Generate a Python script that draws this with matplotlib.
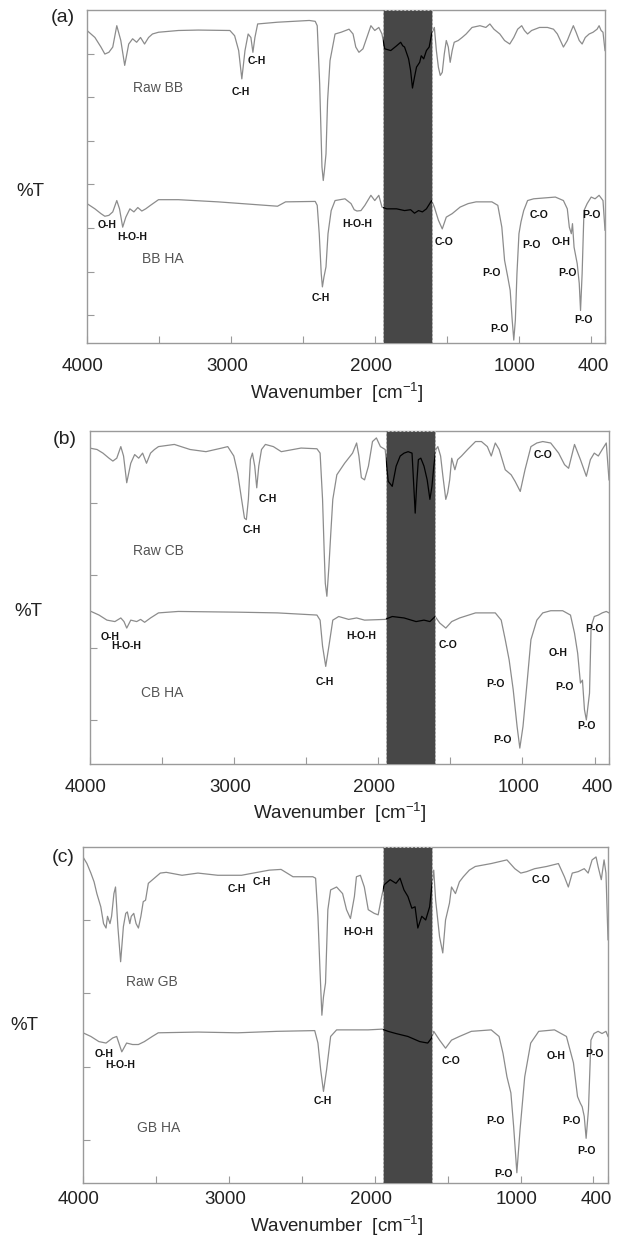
import matplotlib
matplotlib.use("Agg")
import matplotlib.pyplot as plt
from matplotlib.patches import Rectangle
from matplotlib.transforms import ScaledTranslation

plt.rcParams['font.family'] = ['Liberation Sans', 'DejaVu Sans']

# ---------------- data (wavenumber cm-1, offset %T units) ----------------
rawBB_wn = [4000, 3945, 3903, 3876, 3848, 3821, 3793, 3765, 3738, 3710, 3683, 3655, 3628, 3600, 3572, 3545,
            3503, 3365, 3227, 3007, 2974, 2946, 2924, 2902, 2880, 2861, 2847, 2833, 2814, 2676, 2455, 2414,
            2400, 2383, 2367, 2358, 2350, 2339, 2328, 2311, 2276, 2234, 2179, 2151, 2132, 2110, 2082, 2055,
            2027, 2000, 1972, 1950, 1931, 1889, 1848, 1820, 1806, 1793, 1765, 1751, 1738, 1724, 1710, 1688,
            1677, 1660, 1641, 1622, 1605, 1586, 1572, 1558, 1545, 1531, 1517, 1503, 1489, 1476, 1462, 1448,
            1420, 1393, 1365, 1324, 1269, 1228, 1200, 1172, 1131, 1098, 1062, 1034, 1007, 979, 960, 938,
            910, 855, 800, 758, 731, 689, 662, 634, 620, 601, 579, 559, 537, 510, 483, 455, 441, 427, 414, 400]
rawBB_T = [6.53, 6.37, 6.15, 5.99, 6.03, 6.15, 6.64, 6.30, 5.73, 6.22, 6.34, 6.26, 6.37, 6.22, 6.37, 6.45,
           6.49, 6.53, 6.54, 6.53, 6.41, 6.07, 5.42, 6.07, 6.45, 6.37, 6.03, 6.37, 6.68, 6.72, 6.76, 6.74,
           6.64, 5.31, 3.40, 3.09, 3.32, 3.70, 4.92, 5.84, 6.45, 6.49, 6.56, 6.45, 6.15, 6.03, 6.11, 6.37,
           6.64, 6.53, 6.60, 6.45, 6.11, 6.07, 6.18, 6.26, 6.18, 6.15, 5.88, 5.61, 5.21, 5.46, 5.69, 5.80,
           5.95, 5.88, 6.07, 6.15, 6.45, 6.60, 6.07, 5.69, 5.50, 5.57, 5.99, 6.30, 6.15, 5.80, 6.07, 6.26,
           6.30, 6.37, 6.45, 6.60, 6.64, 6.60, 6.68, 6.56, 6.45, 6.30, 6.22, 6.37, 6.56, 6.64, 6.53, 6.45,
           6.53, 6.60, 6.60, 6.56, 6.45, 6.15, 6.30, 6.53, 6.64, 6.49, 6.30, 6.22, 6.37, 6.45, 6.49, 6.56,
           6.64, 6.53, 6.49, 6.07]

haBB_wn = [4000, 3945, 3903, 3876, 3848, 3821, 3793, 3774, 3752, 3730, 3702, 3674, 3647, 3619, 3592, 3559,
           3503, 3365, 3090, 2841, 2676, 2620, 2414, 2400, 2386, 2372, 2364, 2353, 2339, 2325, 2303, 2276,
           2207, 2165, 2143, 2124, 2096, 2069, 2027, 2000, 1972, 1950, 1917, 1848, 1793, 1751, 1724, 1696,
           1669, 1641, 1605, 1586, 1558, 1531, 1503, 1462, 1407, 1351, 1296, 1186, 1145, 1117, 1098, 1076,
           1059, 1045, 1034, 1023, 1012, 998, 984, 965, 938, 896, 745, 689, 662, 648, 634, 626, 615, 593,
           579, 570, 559, 546, 524, 496, 469, 441, 414, 400]
haBB_T = [2.56, 2.44, 2.33, 2.27, 2.29, 2.37, 2.63, 2.44, 2.02, 2.25, 2.44, 2.37, 2.47, 2.39, 2.44, 2.52,
          2.65, 2.65, 2.60, 2.54, 2.50, 2.60, 2.61, 2.52, 1.87, 0.95, 0.65, 0.88, 1.11, 1.87, 2.40, 2.63,
          2.67, 2.56, 2.42, 2.39, 2.40, 2.52, 2.75, 2.63, 2.75, 2.48, 2.44, 2.44, 2.40, 2.42, 2.34, 2.40,
          2.37, 2.44, 2.63, 2.48, 2.18, 1.98, 2.25, 2.33, 2.48, 2.56, 2.60, 2.60, 2.52, 2.02, 1.26, 0.88,
          0.57, -0.11, -0.57, -0.11, 0.95, 1.87, 2.14, 2.40, 2.63, 2.67, 2.71, 2.63, 2.44, 2.02, 1.87, 2.10,
          1.56, 1.18, 0.73, 0.11, 0.95, 2.40, 2.56, 2.71, 2.67, 2.75, 2.63, 1.95]

rawCB_wn = [4000, 3948, 3907, 3865, 3838, 3811, 3783, 3764, 3742, 3714, 3687, 3659, 3632, 3605, 3577, 3550,
            3522, 3412, 3303, 3193, 3083, 3042, 3000, 2973, 2946, 2926, 2913, 2899, 2885, 2871, 2855, 2841,
            2827, 2808, 2781, 2726, 2671, 2534, 2424, 2402, 2385, 2374, 2366, 2355, 2341, 2328, 2314, 2286,
            2232, 2177, 2149, 2133, 2116, 2094, 2067, 2039, 2012, 1984, 1951, 1930, 1902, 1875, 1847, 1820,
            1792, 1765, 1754, 1743, 1732, 1721, 1704, 1682, 1660, 1641, 1627, 1614, 1600, 1586, 1567, 1551,
            1531, 1518, 1504, 1490, 1468, 1449, 1422, 1380, 1325, 1284, 1243, 1216, 1188, 1161, 1119, 1078,
            1051, 1015, 982, 941, 900, 859, 804, 749, 708, 680, 639, 598, 557, 529, 502, 474, 447, 419, 400]
rawCB_T = [3.76, 3.74, 3.69, 3.62, 3.58, 3.62, 3.78, 3.65, 3.28, 3.55, 3.67, 3.62, 3.69, 3.55, 3.69, 3.74,
           3.78, 3.81, 3.74, 3.71, 3.76, 3.78, 3.65, 3.41, 3.05, 2.79, 2.77, 3.05, 3.60, 3.69, 3.51, 3.21,
           3.51, 3.74, 3.81, 3.78, 3.71, 3.76, 3.75, 3.69, 3.05, 2.35, 1.89, 1.71, 2.12, 2.58, 3.05, 3.39,
           3.55, 3.69, 3.83, 3.65, 3.35, 3.32, 3.51, 3.85, 3.90, 3.78, 3.74, 3.30, 3.23, 3.51, 3.65, 3.69,
           3.71, 3.69, 3.28, 2.86, 3.28, 3.60, 3.62, 3.51, 3.32, 3.05, 3.23, 3.51, 3.74, 3.78, 3.65, 3.37,
           3.05, 3.14, 3.32, 3.62, 3.46, 3.60, 3.65, 3.74, 3.85, 3.85, 3.78, 3.65, 3.83, 3.74, 3.46, 3.39,
           3.30, 3.16, 3.46, 3.78, 3.83, 3.85, 3.83, 3.69, 3.53, 3.48, 3.81, 3.60, 3.37, 3.60, 3.69, 3.65,
           3.74, 3.83, 3.32]

haCB_wn = [4000, 3934, 3879, 3824, 3783, 3761, 3742, 3714, 3673, 3646, 3618, 3577, 3522, 3385, 2973, 2698,
           2424, 2402, 2385, 2363, 2341, 2314, 2273, 2204, 2149, 2094, 1951, 1902, 1820, 1737, 1682, 1641,
           1605, 1573, 1531, 1490, 1435, 1325, 1188, 1147, 1119, 1092, 1064, 1037, 1018, 996, 968, 941,
           900, 859, 804, 721, 667, 639, 617, 598, 584, 570, 557, 535, 524, 502, 474, 447, 419, 400]
haCB_T = [1.51, 1.45, 1.38, 1.36, 1.41, 1.36, 1.27, 1.38, 1.36, 1.39, 1.35, 1.41, 1.48, 1.50, 1.49, 1.48,
          1.45, 1.38, 1.02, 0.74, 1.02, 1.38, 1.43, 1.39, 1.41, 1.38, 1.39, 1.43, 1.41, 1.36, 1.38, 1.36,
          1.43, 1.34, 1.27, 1.36, 1.41, 1.48, 1.48, 1.38, 1.11, 0.83, 0.42, -0.09, -0.39, -0.09, 0.51, 1.11,
          1.38, 1.48, 1.51, 1.51, 1.45, 1.20, 0.92, 0.51, 0.55, 0.14, 0.00, 0.37, 1.29, 1.43, 1.45, 1.48,
          1.50, 1.48]

rawGB_wn = [4000, 3973, 3946, 3924, 3905, 3878, 3859, 3842, 3832, 3815, 3804, 3788, 3777, 3761, 3742, 3723,
            3707, 3696, 3679, 3669, 3652, 3636, 3620, 3603, 3587, 3571, 3552, 3511, 3470, 3429, 3321, 3212,
            3076, 2913, 2832, 2723, 2642, 2560, 2424, 2405, 2389, 2375, 2362, 2351, 2337, 2321, 2302, 2261,
            2220, 2193, 2166, 2139, 2125, 2098, 2071, 2044, 2003, 1976, 1957, 1935, 1894, 1854, 1826, 1799,
            1772, 1745, 1723, 1704, 1677, 1650, 1623, 1609, 1595, 1582, 1555, 1533, 1514, 1487, 1473, 1446,
            1419, 1392, 1351, 1310, 1201, 1093, 1039, 998, 957, 903, 821, 740, 699, 672, 645, 604, 563, 536,
            509, 482, 468, 446, 427, 414, 400]
rawGB_T = [3.86, 3.77, 3.64, 3.52, 3.36, 3.18, 2.95, 2.89, 3.05, 2.95, 3.05, 3.36, 3.45, 2.91, 2.43, 2.91,
           3.09, 3.11, 2.95, 3.05, 3.09, 2.95, 2.89, 3.05, 3.25, 3.27, 3.50, 3.57, 3.64, 3.65, 3.61, 3.64,
           3.61, 3.61, 3.64, 3.68, 3.69, 3.59, 3.59, 3.57, 3.05, 2.32, 1.70, 1.95, 2.14, 3.14, 3.41, 3.45,
           3.36, 3.14, 3.02, 3.32, 3.59, 3.61, 3.45, 3.14, 3.09, 3.07, 3.27, 3.48, 3.55, 3.50, 3.57, 3.41,
           3.32, 3.16, 3.18, 2.89, 3.05, 3.00, 3.18, 3.45, 3.68, 3.27, 2.77, 2.55, 3.00, 3.23, 3.45, 3.36,
           3.52, 3.59, 3.68, 3.73, 3.77, 3.82, 3.70, 3.64, 3.66, 3.70, 3.73, 3.77, 3.59, 3.45, 3.64, 3.66,
           3.70, 3.64, 3.82, 3.86, 3.73, 3.55, 3.82, 3.64, 2.73]

haGB_wn = [4000, 3946, 3891, 3842, 3796, 3769, 3734, 3701, 3660, 3620, 3579, 3525, 3484, 3212, 2940, 2669,
           2411, 2389, 2370, 2351, 2330, 2302, 2261, 2180, 2044, 1949, 1908, 1854, 1772, 1691, 1636, 1609,
           1595, 1555, 1514, 1473, 1419, 1337, 1201, 1147, 1120, 1093, 1066, 1047, 1025, 1003, 971, 930,
           875, 767, 685, 637, 609, 590, 577, 563, 550, 534, 517, 496, 468, 441, 414, 400]
haGB_T = [1.46, 1.41, 1.34, 1.32, 1.39, 1.41, 1.20, 1.32, 1.30, 1.30, 1.34, 1.41, 1.46, 1.47, 1.46, 1.48,
          1.49, 1.32, 0.95, 0.66, 0.95, 1.41, 1.50, 1.50, 1.50, 1.51, 1.48, 1.45, 1.41, 1.34, 1.32, 1.39,
          1.48, 1.36, 1.25, 1.36, 1.41, 1.48, 1.50, 1.41, 1.18, 0.86, 0.64, 0.18, -0.45, 0.14, 0.86, 1.32,
          1.48, 1.50, 1.41, 1.05, 0.59, 0.50, 0.45, 0.32, 0.02, 0.41, 1.36, 1.45, 1.48, 1.45, 1.48, 1.41]

panel_letters = ['(a)', '(b)', '(c)']
sample_names = [('Raw BB', 'BB HA'), ('Raw CB', 'CB HA'), ('Raw GB', 'GB HA')]
shade_range = (1605, 1945)
xtick_vals = [4000, 3500, 3000, 2500, 2000, 1500, 1000, 500, 400]
xtick_labels = ['4000', '', '3000', '', '2000', '', '1000', '', '400']

# band labels: (text, wavenumber, T)
bands_a = [('C-H', 2819, 5.82), ('C-H', 2930, 5.11), ('O-H', 3862, 2.06), ('H-O-H', 3683, 1.79),
           ('C-H', 2372, 0.40), ('H-O-H', 2124, 2.10), ('C-O', 1522, 1.68), ('P-O', 1186, 0.97),
           ('P-O', 1136, -0.31), ('P-O', 910, 1.60), ('C-O', 860, 2.29), ('O-H', 703, 1.68),
           ('P-O', 662, 0.97), ('P-O', 551, -0.11), ('P-O', 496, 2.29)]
bands_b = [('C-O', 858, 3.66), ('C-H', 2767, 3.05), ('C-H', 2877, 2.62), ('O-H', 3857, 1.15),
           ('H-O-H', 3747, 1.02), ('H-O-H', 2116, 1.16), ('C-H', 2369, 0.52), ('C-O', 1518, 1.04),
           ('P-O', 1188, 0.49), ('P-O', 1139, -0.28), ('O-H', 754, 0.92), ('P-O', 708, 0.45),
           ('P-O', 557, -0.09), ('P-O', 502, 1.26)]
bands_c = [('C-H', 2946, 3.42), ('C-H', 2777, 3.52), ('H-O-H', 2112, 2.83), ('C-O', 862, 3.55),
           ('O-H', 3856, 1.17), ('H-O-H', 3742, 1.02), ('C-H', 2356, 0.53), ('C-O', 1479, 1.07),
           ('O-H', 753, 1.15), ('P-O', 495, 1.17), ('P-O', 1169, 0.25), ('P-O', 653, 0.25),
           ('P-O', 549, -0.16), ('P-O', 1115, -0.47)]

# ---------------- layout ----------------
W, H = 621, 1244
fig = plt.figure(figsize=(W / 100, H / 100), dpi=100)

boxes = [(87, 10, 605, 342.7), (89.5, 430.7, 609, 764), (83, 846.7, 608, 1183)]
ylims = [(-0.63, 7.0), (-0.61, 4.0), (-0.59, 4.0)]
yticks = [[0, 1, 2, 3, 4, 5, 6], [0, 1, 2, 3], [0, 1, 2, 3]]
name_pos = [((3503, 5.21), (3476, 1.30)), ((3522, 2.33), (3495, 0.37)), ((3525, 2.16), (3484, 0.16))]
letter_pos = [(63, 17), (65, 440), (63, 857)]
pctT_pos = [(30, 192), (28, 611), (24, 1026)]
xlabel_y = [392.7, 813, 1226]
xpads = [11, 10.5, 6.0]

spectra = [((rawBB_wn, rawBB_T), (haBB_wn, haBB_T)),
           ((rawCB_wn, rawCB_T), (haCB_wn, haCB_T)),
           ((rawGB_wn, rawGB_T), (haGB_wn, haGB_T))]
bands = [bands_a, bands_b, bands_c]

gray_line = '#8c8c8c'
spine_col = '#9a9a9a'

for i in range(3):
    l, t, r, b = boxes[i]
    ax = fig.add_axes([l / W, 1 - b / H, (r - l) / W, (b - t) / H])
    ax.set_xlim(4000, 400)
    ax.set_ylim(*ylims[i])
    # shaded region
    ax.axvspan(shade_range[1], shade_range[0], facecolor='#474747', edgecolor='#c8c8c8',
               linestyle=(0, (2, 2)), linewidth=0.7, zorder=3)
    clip = Rectangle((shade_range[0], ylims[i][0]), shade_range[1] - shade_range[0],
                     ylims[i][1] - ylims[i][0], transform=ax.transData)
    for wn, T in spectra[i]:
        ax.plot(wn, T, color=gray_line, lw=0.9, zorder=2)
        ln, = ax.plot(wn, T, color='black', lw=0.9, zorder=4)
        ln.set_clip_path(clip)
    for txt, wv, tv in bands[i]:
        ax.text(wv, tv, txt, fontsize=7.5, fontweight='bold', ha='center', va='center',
                color='#111111', zorder=5)
    for nm, (wv, tv) in zip(sample_names[i], name_pos[i]):
        ax.text(wv, tv, nm, fontsize=10, ha='center', va='center', color='#555555', zorder=5)
    ax.set_xticks(xtick_vals)
    ax.set_xticklabels(xtick_labels)
    ax.set_yticks(yticks[i])
    ax.set_yticklabels([])
    ax.tick_params(axis='both', direction='in', length=5, width=0.8, color=spine_col,
                   labelsize=13.5, labelcolor='#222222')
    ax.tick_params(axis='x', pad=xpads[i])
    # shift tick labels slightly left as in the reference; "400" sits inside the right edge
    for k, lbl in enumerate(ax.get_xticklabels()):
        dx = -0.12 if xtick_labels[k] == '400' else -0.04
        lbl.set_transform(lbl.get_transform() + ScaledTranslation(dx, 0, fig.dpi_scale_trans))
    for s in ax.spines.values():
        s.set_color(spine_col)
        s.set_linewidth(1.0)
    # texts in figure pixel coordinates
    fig.text(letter_pos[i][0] / W, 1 - letter_pos[i][1] / H, panel_letters[i], fontsize=14,
             ha='center', va='center', color='#222222')
    fig.text(pctT_pos[i][0] / W, 1 - pctT_pos[i][1] / H, '%T', fontsize=13.5,
             ha='center', va='center', color='#222222')
    fig.text(((l + r) / 2 - 9) / W, 1 - xlabel_y[i] / H, 'Wavenumber  [cm$^{\\mathregular{-1}}$]',
             fontsize=13.5, ha='center', va='center', color='#222222')

fig.savefig('out.png', dpi=100)
